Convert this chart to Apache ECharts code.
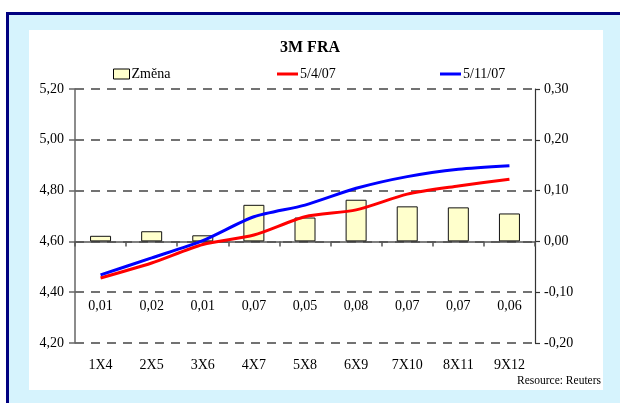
<!DOCTYPE html>
<html>
	<head>
		<meta charset="utf-8" />
		<title>3M FRA</title>
		<script src="https://cdn.jsdelivr.net/npm/echarts@6/dist/echarts.min.js"></script>
		<style>
			body { margin: 0; background: #fff; }
			#frame { position: absolute; left: 6px; top: 12px; width: 620px; height: 400px;
				background: #D6F3FD; border-left: 3px solid #000080; border-top: 3px solid #000080; }
			#panel { position: absolute; left: 29px; top: 30px; width: 574px; height: 360px; background: #fff; }
			#main { position: absolute; left: 0; top: 0; width: 620px; height: 403px; }
		</style>
	</head>
	<body>
		<div id="frame"></div>
		<div id="panel"></div>
		<div id="main"></div>
	<script type="text/javascript">
		// kategorie
		var categories = ['1X4', '2X5', '3X6', '4X7', '5X8', '6X9', '7X10', '8X11', '9X12'];
		// zmena (prava osa)
		var zmena = [0.011, 0.02, 0.012, 0.072, 0.047, 0.082, 0.069, 0.067, 0.055];
		var zmenaLabels = ['0,01', '0,02', '0,01', '0,07', '0,05', '0,08', '0,07', '0,07', '0,06'];
		// 5/4/07 (leva osa)
		var red = [4.456, 4.515, 4.588, 4.625, 4.697, 4.724, 4.786, 4.818, 4.845];
		// 5/11/07
		var blue = [4.468, 4.535, 4.603, 4.697, 4.743, 4.809, 4.855, 4.884, 4.898];
		var labelLevel = -0.128;

		var fmt = function (v) { return v.toFixed(2).replace('.', ','); };
		var font = 'Liberation Serif';
		var legendText = { fontFamily: font, fontSize: 14, color: '#000', padding: [0, 0, 0, -3] };

		var myChart = echarts.init(document.getElementById('main'));
		var option = {
			animation: false,
			title: {
				text: '3M FRA', left: 'center', top: 35,
				textStyle: { fontFamily: font, fontSize: 16, fontWeight: 'bold', color: '#000' }
			},
			legend: [
				{ data: [{ name: 'Změna', icon: 'rect' }], left: 108, top: 62, itemWidth: 16, itemHeight: 10,
				  itemStyle: { borderColor: '#000', borderWidth: 1 }, textStyle: legendText },
				{ data: [{ name: '5/4/07', icon: 'rect' }], left: 272, top: 62, itemWidth: 21, itemHeight: 3,
				  textStyle: legendText },
				{ data: [{ name: '5/11/07', icon: 'rect' }], left: 435, top: 62, itemWidth: 21, itemHeight: 3,
				  textStyle: legendText }
			],
			grid: { left: 75, right: 85, top: 89, bottom: 60 },
			xAxis: {
				type: 'category',
				data: categories,
				axisLine: { lineStyle: { color: '#555', width: 1.5 } },
				axisTick: { show: true, length: 5, lineStyle: { color: '#555', width: 1.5 } },
				axisLabel: { margin: 15, fontFamily: font, fontSize: 14, color: '#000' }
			},
			yAxis: [
				{
					type: 'value', min: 4.2, max: 5.2, interval: 0.2,
					axisLine: { show: true, lineStyle: { color: '#666', width: 1.5 } },
					axisTick: { show: true, length: 6, lineStyle: { color: '#666', width: 1.5 } },
					axisLabel: { margin: 11, fontFamily: font, fontSize: 14, color: '#000', formatter: fmt },
					splitLine: { show: true, lineStyle: { color: '#444', type: [9, 7], width: 1.5 } }
				},
				{
					type: 'value', min: -0.2, max: 0.3, interval: 0.1,
					axisLine: { show: true, lineStyle: { color: '#333', width: 1.2 } },
					axisTick: { show: true, length: 5, lineStyle: { color: '#333', width: 1.2 } },
					axisLabel: { margin: 9, fontFamily: font, fontSize: 14, color: '#000', formatter: fmt },
					splitLine: { show: false }
				}
			],
			series: [
				{
					name: 'Změna', type: 'bar', yAxisIndex: 1, data: zmena, barWidth: 21,
					itemStyle: { color: '#FFFFCC', borderColor: '#111', borderWidth: 1 }
				},
				{
					name: 'labels', type: 'scatter', yAxisIndex: 1, symbolSize: 0, silent: true,
					itemStyle: { opacity: 1 },
					data: zmenaLabels.map(function () { return labelLevel; }),
					label: {
						show: true, position: 'inside', fontFamily: font, fontSize: 14, color: '#000',
						formatter: function (p) { return zmenaLabels[p.dataIndex]; }
					}
				},
				{
					name: '5/4/07', type: 'line', yAxisIndex: 0, data: red, symbol: 'none', smooth: 0.25,
					lineStyle: { color: '#FF0000', width: 3 }, itemStyle: { color: '#FF0000' }
				},
				{
					name: '5/11/07', type: 'line', yAxisIndex: 0, data: blue, symbol: 'none', smooth: 0.25,
					lineStyle: { color: '#0000FF', width: 3 }, itemStyle: { color: '#0000FF' }
				}
			],
			graphic: [
				{ type: 'text', right: 19, top: 375,
				  style: { text: 'Resource: Reuters', fontFamily: font, fontSize: 11.5, fill: '#000' } }
			]
		};
		myChart.setOption(option);
	</script>
	</body>
</html>
